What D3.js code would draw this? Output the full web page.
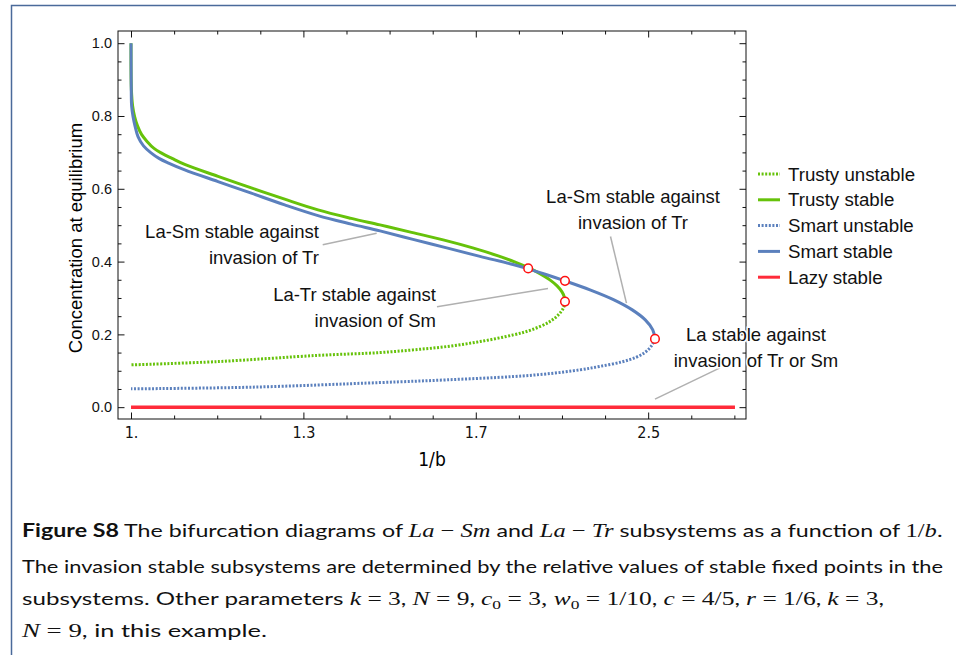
<!DOCTYPE html>
<html>
<head>
<meta charset="utf-8">
<script src="https://cdn.jsdelivr.net/npm/d3@7"></script>
<style>
    html, body { margin: 0; padding: 0; background: #fff; }
    svg { display: block; }
</style>
</head>
<body>
<svg id="chart" width="956" height="655"></svg>
<script>
// the x axis is linear in b, its ticks are labelled with 1/b
const xTicks = [1, 0.8, 0.6, 0.4];
const xTickLabels = ['1.', '1.3', '1.7', '2.5'];
const xMinorTicks = [0.95, 0.9, 0.85, 0.75, 0.7, 0.65, 0.55, 0.5, 0.45, 0.35, 0.3];
const yTicks = [0, 0.2, 0.4, 0.6, 0.8, 1.0];
const yTickLabels = ['0.0', '0.2', '0.4', '0.6', '0.8', '1.0'];
const yMinorTicks = [0.05, 0.1, 0.15, 0.25, 0.3, 0.35, 0.45, 0.5, 0.55, 0.65, 0.7, 0.75, 0.85, 0.9, 0.95];

// [b, concentration]
const trustyStable = [
    [1.0, 1.0], [0.99954, 0.8717], [0.99814, 0.8277], [0.99582, 0.7984], [0.99246, 0.7728],
    [0.98782, 0.7495], [0.98144, 0.7302], [0.97332, 0.711], [0.96404, 0.6973], [0.95244, 0.6835],
    [0.9377, 0.667], [0.89907, 0.6341], [0.86044, 0.6025], [0.82169, 0.5714], [0.78306, 0.542],
    [0.74443, 0.5187], [0.71114, 0.5008], [0.67691, 0.4816], [0.63782, 0.4596], [0.6036, 0.4376],
    [0.57401, 0.4157], [0.55499, 0.3992], [0.53794, 0.3819], [0.52506, 0.3662], [0.51404, 0.3497],
    [0.50568, 0.3332], [0.5, 0.3168], [0.49733, 0.303], [0.49652, 0.2901]
];
const trustyUnstable = [
    [0.49652, 0.2901], [0.4983, 0.2728], [0.5043, 0.2536], [0.5147, 0.2343], [0.5355, 0.2124],
    [0.5565, 0.1986], [0.5951, 0.1802], [0.6338, 0.1665], [0.6725, 0.1574], [0.7111, 0.15],
    [0.7831, 0.1423], [0.8991, 0.1253], [1.0, 0.1162]
];
const smartStable = [
    [1.0, 1.0], [0.99988, 0.9266], [0.99965, 0.8533], [0.9993, 0.8277], [0.99768, 0.7984],
    [0.99513, 0.7701], [0.99188, 0.7434], [0.9855, 0.7179], [0.9768, 0.6986], [0.96752, 0.6835],
    [0.95708, 0.6712], [0.9377, 0.6519], [0.89907, 0.6198], [0.86044, 0.5879], [0.82169, 0.5558],
    [0.78306, 0.5264], [0.74443, 0.503], [0.71114, 0.4843], [0.67285, 0.461], [0.63376, 0.4376],
    [0.59513, 0.4143], [0.55684, 0.392], [0.54002, 0.3808], [0.51856, 0.3646], [0.49652, 0.347],
    [0.46752, 0.3223], [0.43968, 0.2948], [0.41845, 0.2673], [0.40336, 0.2398], [0.39466, 0.2124],
    [0.39211, 0.1876]
];
const smartUnstable = [
    [0.39211, 0.1876], [0.3962, 0.1684], [0.4037, 0.1505], [0.4142, 0.1368], [0.4304, 0.1245],
    [0.4559, 0.1121], [0.4791, 0.1025], [0.5174, 0.0915], [0.5568, 0.0841], [0.6338, 0.075],
    [0.7111, 0.0676], [0.8604, 0.0549], [1.0, 0.0503]
];
const lazyStable = [[1.0, 0], [0.2993, 0]];
const bifurcationPoints = [[0.5392, 0.3812], [0.49652, 0.347], [0.49652, 0.2901], [0.39211, 0.1876]];

// annotations: text anchor [b, c], pointer line from/to [b, c]
const annotations = [
    { lines: ['La-Sm stable against', 'invasion of Tr'], at: [0.782, 0.465], anchor: 'end',
      from: [0.7776, 0.446], to: [0.715, 0.478] },
    { lines: ['La-Tr stable against', 'invasion of Sm'], at: [0.6462, 0.291], anchor: 'end',
      from: [0.645, 0.276], to: [0.5162, 0.326] },
    { lines: ['La-Sm stable against', 'invasion of Tr'], at: [0.4176, 0.561], anchor: 'middle',
      from: [0.4437, 0.469], to: [0.4252, 0.286] },
    { lines: ['La stable against', 'invasion of Tr or Sm'], at: [0.2749, 0.181], anchor: 'middle',
      from: [0.3921, 0.022], to: [0.3167, 0.108] }
];

const green = '#66c20a';
const blue = '#5b80bd';
const red = '#ff2b3a';

const legendItems = [
    { label: 'Trusty unstable', color: green, dash: '2,1.6' },
    { label: 'Trusty stable', color: green, dash: null },
    { label: 'Smart unstable', color: blue, dash: '2,1.6' },
    { label: 'Smart stable', color: blue, dash: null },
    { label: 'Lazy stable', color: red, dash: null }
];

const sansFont = '"Liberation Sans", Arial, sans-serif';
const narrowFont = '"Liberation Sans Narrow", "DejaVu Sans Condensed", "Liberation Sans", sans-serif';
const captionFont = 'Lato, "Liberation Sans", sans-serif';
const mathFont = '"Liberation Serif", "DejaVu Serif", serif';

// caption segments: s = sans, b = bold, i = math italic, m = math upright, sub = subscript
const captionLines = [
    { y: 537, len: 921, parts: [['Figure S8', 'b'], [' The bifurcation diagrams of ', 's'], ['La', 'i'], [' − ', 'm'], ['Sm', 'i'],
        [' and ', 's'], ['La', 'i'], [' − ', 'm'], ['Tr', 'i'], [' subsystems as a function of ', 's'], ['1/', 'm'], ['b', 'i'], ['.', 'm']] },
    { y: 573, len: 921, parts: [['The invasion stable subsystems are determined by the relative values of stable fixed points in the', 's']] },
    { y: 605, len: 862, parts: [['subsystems. Other parameters ', 's'], ['k', 'i'], [' = 3', 'm'], [', ', 's'], ['N', 'i'], [' = 9', 'm'], [', ', 's'],
        ['c', 'i'], ['0', 'sub'], [' = 3, ', 'm'], ['w', 'i'], ['0', 'sub'], [' = 1/10', 'm'], [', ', 's'], ['c', 'i'], [' = 4/5', 'm'], [', ', 's'],
        ['r', 'i'], [' = 1/6', 'm'], [', ', 's'], ['k', 'i'], [' = 3', 'm'], [',', 's']] },
    { y: 637, len: 245, parts: [['N', 'i'], [' = 9', 'm'], [', in this example.', 's']] }
];

const margin = { left: 118, right: 746, top: 31, bottom: 419 };

const x = d3.scaleLinear().domain([1.0151, 0.2865]).range([margin.left, margin.right]);
const y = d3.scaleLinear().domain([-0.0325, 1.0335]).range([margin.bottom, margin.top]);

const line = d3.line()
    .x(d => x(d[0]))
    .y(d => y(d[1]))
    .curve(d3.curveCatmullRom.alpha(0.5));

const styleAxis = (g, font, size) => {
    g.select('.domain').remove();
    g.attr('font-family', font).attr('font-size', size);
    g.selectAll('line').attr('stroke', '#111');
    g.selectAll('text').attr('fill', '#111');
};

const drawAxes = svg => {
    const w = margin.right - margin.left;
    const h = margin.bottom - margin.top;

    // frame
    svg.append('rect')
        .attr('x', margin.left).attr('y', margin.top)
        .attr('width', w).attr('height', h)
        .attr('fill', 'none').attr('stroke', '#111').attr('stroke-width', 1);

    const bottom = svg.append('g').attr('transform', `translate(0,${margin.bottom})`);
    bottom.append('g').call(d3.axisBottom(x).tickValues(xTicks)
        .tickFormat((d, i) => xTickLabels[i]).tickSizeInner(-6.5).tickSizeOuter(0).tickPadding(8))
        .call(g => styleAxis(g, narrowFont, 16));
    bottom.append('g').call(d3.axisBottom(x).tickValues(xMinorTicks)
        .tickFormat('').tickSizeInner(-3.5).tickSizeOuter(0))
        .call(g => styleAxis(g, narrowFont, 16));

    const top = svg.append('g').attr('transform', `translate(0,${margin.top})`);
    top.append('g').call(d3.axisTop(x).tickValues(xTicks)
        .tickFormat('').tickSizeInner(-6.5).tickSizeOuter(0))
        .call(g => styleAxis(g, sansFont, 14));
    top.append('g').call(d3.axisTop(x).tickValues(xMinorTicks)
        .tickFormat('').tickSizeInner(-3.5).tickSizeOuter(0))
        .call(g => styleAxis(g, sansFont, 14));

    const left = svg.append('g').attr('transform', `translate(${margin.left},0)`);
    left.append('g').call(d3.axisLeft(y).tickValues(yTicks)
        .tickFormat((d, i) => yTickLabels[i]).tickSizeInner(-6.5).tickSizeOuter(0).tickPadding(6))
        .call(g => styleAxis(g, sansFont, 14.5));
    left.append('g').call(d3.axisLeft(y).tickValues(yMinorTicks)
        .tickFormat('').tickSizeInner(-3.5).tickSizeOuter(0))
        .call(g => styleAxis(g, sansFont, 14.5));

    const right = svg.append('g').attr('transform', `translate(${margin.right},0)`);
    right.append('g').call(d3.axisRight(y).tickValues(yTicks)
        .tickFormat('').tickSizeInner(-6.5).tickSizeOuter(0))
        .call(g => styleAxis(g, sansFont, 14));
    right.append('g').call(d3.axisRight(y).tickValues(yMinorTicks)
        .tickFormat('').tickSizeInner(-3.5).tickSizeOuter(0))
        .call(g => styleAxis(g, sansFont, 14));

    svg.append('text')
        .attr('x', (margin.left + margin.right) / 2).attr('y', 466)
        .attr('text-anchor', 'middle')
        .attr('font-family', narrowFont).attr('font-size', 19)
        .text('1/b');

    svg.append('text')
        .attr('transform', `translate(82,238) rotate(-90)`)
        .attr('text-anchor', 'middle')
        .attr('font-family', sansFont).attr('font-size', 18.5)
        .text('Concentration at equilibrium');
};

const drawSeries = svg => {
    const g = svg.append('g').attr('fill', 'none').attr('stroke-width', 3);

    g.append('path').datum(lazyStable).attr('d', line)
        .attr('stroke', red).attr('stroke-width', 3.5);
    g.append('path').datum(smartUnstable).attr('d', line)
        .attr('stroke', blue).attr('stroke-dasharray', '2,1.6');
    g.append('path').datum(trustyUnstable).attr('d', line)
        .attr('stroke', green).attr('stroke-dasharray', '2,1.6');
    g.append('path').datum(trustyStable).attr('d', line)
        .attr('stroke', green);
    g.append('path').datum(smartStable).attr('d', line)
        .attr('stroke', blue);

    svg.append('g').selectAll('circle')
        .data(bifurcationPoints)
        .join('circle')
        .attr('cx', d => x(d[0]))
        .attr('cy', d => y(d[1]))
        .attr('r', 4.3)
        .attr('fill', '#fff')
        .attr('stroke', '#ff1010')
        .attr('stroke-width', 1.5);
};

const drawAnnotations = svg => {
    annotations.forEach(a => {
        svg.append('line')
            .attr('x1', x(a.from[0])).attr('y1', y(a.from[1]))
            .attr('x2', x(a.to[0])).attr('y2', y(a.to[1]))
            .attr('stroke', '#b0b0b0').attr('stroke-width', 1.5);

        const t = svg.append('text')
            .attr('font-family', sansFont).attr('font-size', 18.5)
            .attr('text-anchor', a.anchor)
            .attr('stroke', '#fff').attr('stroke-width', 3)
            .attr('paint-order', 'stroke')
            .attr('fill', '#111');
        a.lines.forEach((l, i) => {
            t.append('tspan')
                .attr('x', x(a.at[0]))
                .attr('y', y(a.at[1]) + i * 26)
                .text(l);
        });
    });
};

const drawLegend = svg => {
    const g = svg.append('g').attr('transform', 'translate(758,174)');
    const rows = g.selectAll('g').data(legendItems).join('g')
        .attr('transform', (d, i) => `translate(0,${i * 25.8})`);
    rows.append('line')
        .attr('x1', 0).attr('x2', 22)
        .attr('stroke', d => d.color).attr('stroke-width', 3)
        .attr('stroke-dasharray', d => d.dash);
    rows.append('text')
        .attr('x', 30).attr('dy', '0.35em')
        .attr('font-family', sansFont).attr('font-size', 18.7)
        .attr('fill', '#111')
        .text(d => d.label);
};

const drawCaption = svg => {
    captionLines.forEach(c => {
        const t = svg.append('text')
            .attr('x', 22).attr('y', c.y)
            .attr('font-size', 18)
            .attr('fill', '#111')
            .attr('textLength', c.len)
            .attr('lengthAdjust', 'spacingAndGlyphs');
        let shift = 0;
        c.parts.forEach(([txt, kind]) => {
            const s = t.append('tspan').text(txt);
            const target = kind === 'sub' ? 4 : 0;
            if (target !== shift) {
                s.attr('dy', target - shift);
                shift = target;
            }
            if (kind === 'b') s.attr('font-family', captionFont).attr('font-weight', 'bold');
            else if (kind === 's') s.attr('font-family', captionFont);
            else if (kind === 'i') s.attr('font-family', mathFont).attr('font-style', 'italic').attr('font-size', 19);
            else if (kind === 'm') s.attr('font-family', mathFont).attr('font-size', 19);
            else s.attr('font-family', mathFont).attr('font-size', 13);
        });
    });
};

const render = () => {
    const svg = d3.select('#chart');

    // outer figure border
    svg.append('path')
        .attr('d', 'M11.5,655 V5.5 H956')
        .attr('fill', 'none')
        .attr('stroke', '#4a6a9a')
        .attr('stroke-width', 1.5);

    drawAxes(svg);
    drawSeries(svg);
    drawAnnotations(svg);
    drawLegend(svg);
    drawCaption(svg);
};

render();
</script>
</body>
</html>
